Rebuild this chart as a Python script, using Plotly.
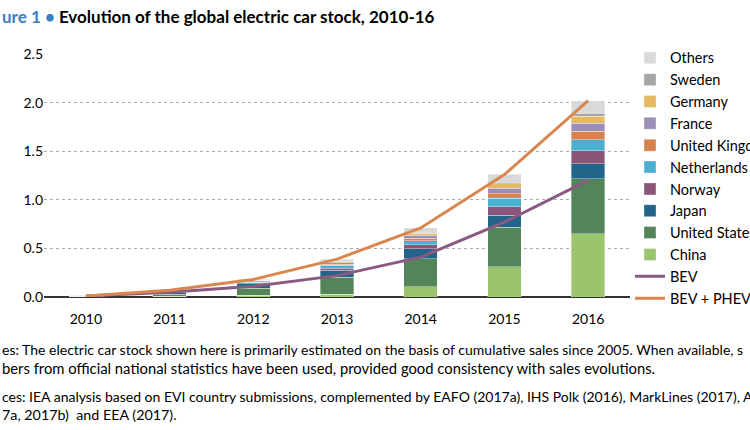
import plotly.graph_objects as go

years = ["2010", "2011", "2012", "2013", "2014", "2015", "2016"]

china = [0.002, 0.007, 0.016, 0.030, 0.105, 0.312, 0.649]
united_states = [0.004, 0.022, 0.076, 0.172, 0.290, 0.404, 0.570]
japan = [0.004, 0.017, 0.044, 0.074, 0.101, 0.126, 0.151]
norway = [0.003, 0.005, 0.010, 0.020, 0.041, 0.084, 0.134]
netherlands = [0.000, 0.001, 0.007, 0.029, 0.044, 0.088, 0.112]
united_kingdom = [0.001, 0.002, 0.004, 0.010, 0.024, 0.049, 0.087]
france = [0.000, 0.003, 0.010, 0.018, 0.028, 0.055, 0.084]
germany = [0.000, 0.003, 0.006, 0.012, 0.025, 0.049, 0.073]
sweden = [0.000, 0.000, 0.001, 0.003, 0.008, 0.016, 0.029]
others = [0.003, 0.005, 0.010, 0.020, 0.044, 0.080, 0.130]

bev = [0.01, 0.05, 0.11, 0.22, 0.41, 0.77, 1.20]
bev_phev = [0.01, 0.07, 0.18, 0.39, 0.71, 1.26, 2.02]

y_ticks = [0, 0.5, 1.0, 1.5, 2.0, 2.5]

stack = [
    ("China", china, "#9BC46E"),
    ("United States", united_states, "#54845A"),
    ("Japan", japan, "#23648A"),
    ("Norway", norway, "#8A5579"),
    ("Netherlands", netherlands, "#4BAFD1"),
    ("United Kingdom", united_kingdom, "#D6844F"),
    ("France", france, "#9B8FB8"),
    ("Germany", germany, "#E5BA62"),
    ("Sweden", sweden, "#A6A6A6"),
    ("Others", others, "#D9D9D9"),
]

fig = go.Figure()
n = len(stack)
for idx, (name, vals, col) in enumerate(stack):
    fig.add_trace(go.Bar(
        x=years, y=vals, name=name, marker_color=col,
        marker_line=dict(width=0.6, color="rgba(255,255,255,0.6)"),
        legendrank=100 + (n - idx),
    ))

fig.add_trace(go.Scatter(x=years, y=bev, name="BEV", mode="lines",
                         line=dict(color="#8B5A83", width=3), legendrank=200))
fig.add_trace(go.Scatter(x=years, y=bev_phev, name="BEV + PHEV", mode="lines",
                         line=dict(color="#D9874F", width=3), legendrank=201))

font = "Lato, 'Open Sans', sans-serif"
L = 44  # left margin in px, notes start at the page edge
W = 586

# (text, vertical offset below the plot, font size)
notes = [
    ("es: The electric car stock shown here is primarily estimated on the basis of cumulative sales since 2005. When available, s", -42, 14),
    ("bers from official national statistics have been used, provided good consistency with sales evolutions.", -60, 14.8),
    ("ces: IEA analysis based on EVI country submissions, complemented by EAFO (2017a), IHS Polk (2016), MarkLines (2017), A", -89, 14),
    ("7a, 2017b)  and EEA (2017).", -107, 14.3),
]

annotations = [
    dict(xref="paper", yref="paper", x=-L / W, y=1.0, yanchor="top", xanchor="left",
         yshift=50, showarrow=False, align="left",
         text="<span style='color:#3B7DC4'>ure 1 •</span> Evolution of the global electric car stock, 2010-16",
         font=dict(size=17, family=font, weight="bold")),
]
for txt, dy, fs in notes:
    annotations.append(dict(xref="paper", yref="paper", x=-L / W, y=0, yanchor="top",
                            xanchor="left", yshift=dy, showarrow=False, align="left",
                            text=txt, font=dict(size=fs, family=font)))

fig.update_layout(
    width=750, height=430,
    barmode="stack", bargap=0.6,
    plot_bgcolor="white", paper_bgcolor="white",
    margin=dict(l=L, r=120, t=54, b=133, autoexpand=False),
    font=dict(family=font, size=14, color="black"),
    showlegend=True,
    legend=dict(x=1.0, xanchor="left", y=1.05, yanchor="top", traceorder="normal",
                font=dict(size=14.5), tracegroupgap=0, bgcolor="rgba(0,0,0,0)",
                itemwidth=30, maxheight=420),
    xaxis=dict(showgrid=False, ticks="", tickfont=dict(size=14),
               showline=False, range=[-0.5, 6.5], ticklabelstandoff=12),
    yaxis=dict(range=[0, 2.5], tickvals=y_ticks, tickformat=".1f",
               showgrid=True, gridcolor="#AAAAAA", griddash="dot", gridwidth=1,
               zeroline=True, zerolinecolor="#333333", zerolinewidth=1.5,
               ticks="", ticklabelstandoff=0, tickfont=dict(size=14)),
    shapes=[dict(type="line", xref="paper", yref="paper", x0=-0.1, x1=1.3,
                 y0=1.0, y1=1.0, yanchor=398, ysizemode="pixel",
                 line=dict(color="#6F93C8", width=2))],
    annotations=annotations,
)

fig.write_html("out.html", config={"displayModeBar": False},
               post_script="document.body.style.margin='0';")
